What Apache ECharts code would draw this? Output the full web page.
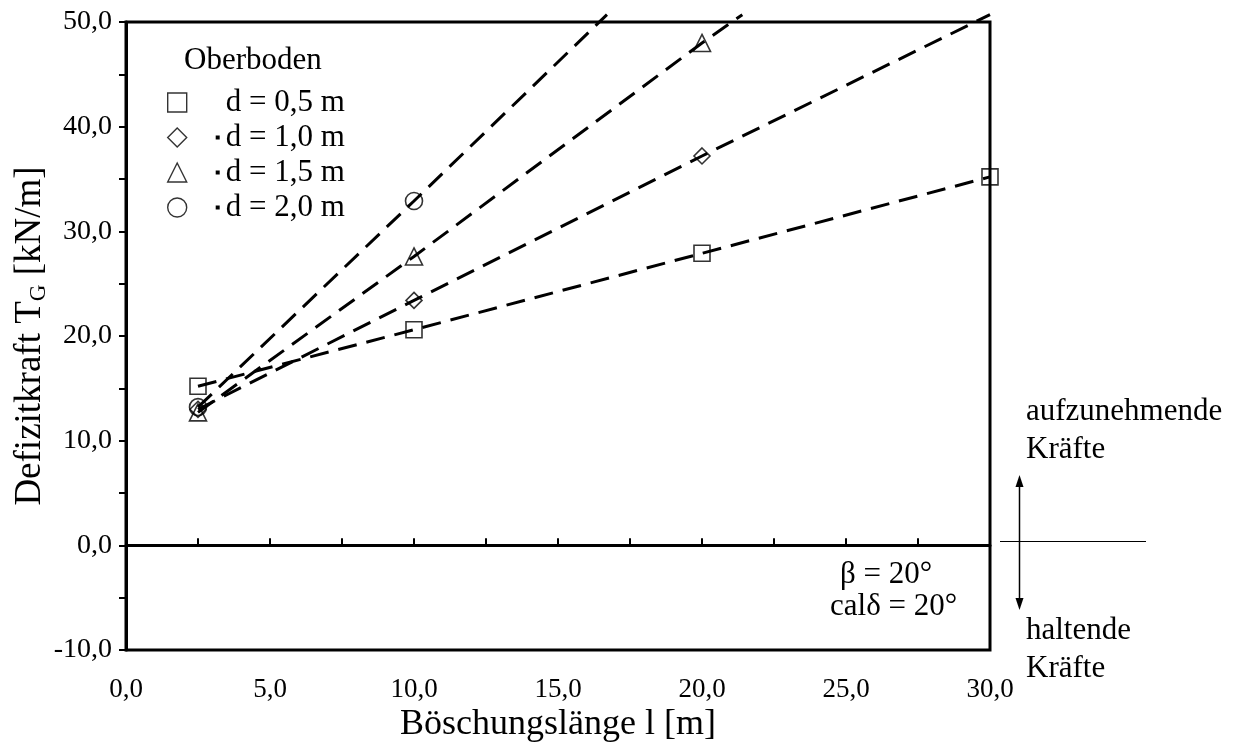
<!DOCTYPE html>
<html>
<head>
<meta charset="utf-8">
<script src="https://cdn.jsdelivr.net/npm/echarts@6/dist/echarts.min.js"></script>
<style>
  html, body { margin: 0; padding: 0; background: #fff; }
  #chart { width: 1233px; height: 747px; }
</style>
</head>
<body>
<div id="chart"></div>
<script>
// Böschungslänge l [m]
var lengths = [2.5, 10, 20, 30];
// Defizitkraft T_G [kN/m] je Oberbodendicke
var d05 = [15.2, 20.6, 27.9, 35.2];
var d10 = [13.0, 23.4, 37.2];
var d15 = [12.7, 27.6, 48.0];
var d20 = [13.2, 32.9];
// Verlängerung der Geraden bis über den oberen Rand (x, y)
var end10 = [30.0, 50.7];
var end15 = [21.4, 50.7];
var end20 = [16.7, 50.7];

var names = ['d = 0,5 m', 'd = 1,0 m', 'd = 1,5 m', 'd = 2,0 m'];
var symbols = ['rect', 'diamond', 'triangle', 'circle'];
var FONT = 'Liberation Serif';
var TXT = '31px "Liberation Serif"';

function pairs(ys, end) {
  var out = ys.map(function (v, i) { return [lengths[i], v]; });
  if (end) out.push(end);
  return out;
}

var chart = echarts.init(document.getElementById('chart'));

var lineSets = [pairs(d05), pairs(d10, end10), pairs(d15, end15), pairs(d20, end20)];
var pointSets = [pairs(d05), pairs(d10), pairs(d15), pairs(d20)];
var sizes = [16, 16, 17, 17];

var series = [];
lineSets.forEach(function (dat, i) {
  series.push({
    name: 'linie' + i,
    type: 'line',
    data: dat,
    showSymbol: false,
    clip: false,
    silent: true,
    z: 2,
    lineStyle: { color: '#000', width: 3, type: [19, 10] },
    markLine: i === 0 ? {
      silent: true,
      symbol: 'none',
      label: { show: false },
      lineStyle: { color: '#000', width: 2, type: 'solid' },
      data: [{ yAxis: 0 }]
    } : undefined
  });
});
pointSets.forEach(function (dat, i) {
  series.push({
    name: names[i],
    type: 'scatter',
    data: dat,
    symbol: symbols[i],
    symbolSize: sizes[i],
    z: 3,
    itemStyle: { color: 'rgba(0,0,0,0)', borderColor: '#000', borderWidth: 1.6 }
  });
});

var option = {
  animation: false,
  backgroundColor: '#fff',
  title: {
    text: 'Oberboden',
    left: 179,
    top: 40,
    textStyle: { fontFamily: FONT, fontWeight: 'normal', fontSize: 31, color: '#000' }
  },
  legend: {
    orient: 'vertical',
    left: 162,
    top: 82,
    itemWidth: 19,
    itemHeight: 19,
    itemGap: 4,
    selectedMode: false,
    data: names.map(function (n, i) { return { name: n, icon: symbols[i] }; }),
    itemStyle: { color: 'rgba(0,0,0,0)', borderColor: '#000', borderWidth: 1.4 },
    formatter: function (n) {
      if (n === names[0]) return '{g| }{t|' + n + '}';
      return '{g2| }{dot| }{g3| }{t|' + n + '}';
    },
    textStyle: {
      fontFamily: FONT,
      fontSize: 31,
      color: '#000',
      rich: {
        g: { width: 34 },
        g2: { width: 24 },
        dot: { width: 4, height: 4, backgroundColor: '#000' },
        g3: { width: 6 },
        t: { fontFamily: FONT, fontSize: 31, color: '#000' }
      }
    }
  },
  grid: {
    left: 126,
    right: 243,
    top: 22,
    bottom: 97,
    outerBoundsMode: 'none',
    containLabel: false,
    show: true,
    borderColor: '#000',
    borderWidth: 3
  },
  xAxis: {
    type: 'value',
    min: 0,
    max: 30,
    interval: 5,
    name: 'Böschungslänge l [m]',
    nameLocation: 'middle',
    nameGap: 57,
    nameMoveOverlap: false,
    nameTextStyle: { fontFamily: FONT, fontSize: 36, color: '#000', verticalAlign: 'top' },
    axisLine: { lineStyle: { color: '#000', width: 3 } },
    axisTick: { inside: true, length: 7, lineStyle: { color: '#000', width: 2 } },
    minorTick: { show: true, splitNumber: 2, length: 7, lineStyle: { color: '#000', width: 2 } },
    splitLine: { show: false },
    axisLabel: {
      fontFamily: FONT,
      fontSize: 27,
      color: '#000',
      margin: 26,
      formatter: function (v) { return v.toFixed(1).replace('.', ','); }
    }
  },
  yAxis: {
    type: 'value',
    min: -10,
    max: 50,
    interval: 10,
    name: '{n|Defizitkraft T}{s|G}{n| [kN/m]}',
    nameLocation: 'middle',
    nameGap: 76,
    nameMoveOverlap: false,
    nameTextStyle: {
      rich: {
        n: { fontFamily: FONT, fontSize: 37, color: '#000' },
        s: { fontFamily: FONT, fontSize: 23, color: '#000', padding: [16, 0, 0, 0] }
      }
    },
    axisLine: { lineStyle: { color: '#000', width: 3 } },
    axisTick: { inside: false, length: 7, lineStyle: { color: '#000', width: 2 } },
    minorTick: { show: true, splitNumber: 2, length: 7, lineStyle: { color: '#000', width: 2 } },
    splitLine: { show: false },
    axisLabel: {
      fontFamily: FONT,
      fontSize: 28,
      color: '#000',
      margin: 14,
      formatter: function (v) { return v.toFixed(1).replace('.', ','); }
    }
  },
  graphic: [
    { type: 'text', left: 840, top: 559, style: { text: 'β = 20°', font: TXT, fill: '#000' } },
    { type: 'text', left: 830, top: 591, style: { text: 'calδ = 20°', font: TXT, fill: '#000' } },
    { type: 'text', left: 1026, top: 396, style: { text: 'aufzunehmende', font: TXT, fill: '#000' } },
    { type: 'text', left: 1026, top: 434, style: { text: 'Kräfte', font: TXT, fill: '#000' } },
    { type: 'text', left: 1026, top: 615, style: { text: 'haltende', font: TXT, fill: '#000' } },
    { type: 'text', left: 1026, top: 653, style: { text: 'Kräfte', font: TXT, fill: '#000' } },
    { type: 'line', shape: { x1: 1000, y1: 541.5, x2: 1146, y2: 541.5 }, style: { stroke: '#000', lineWidth: 1 } },
    { type: 'line', shape: { x1: 1019.5, y1: 484, x2: 1019.5, y2: 601 }, style: { stroke: '#000', lineWidth: 1.5 } },
    { type: 'polygon', shape: { points: [[1019.5, 475], [1015.5, 487], [1023.5, 487]] }, style: { fill: '#000' } },
    { type: 'polygon', shape: { points: [[1019.5, 610], [1015.5, 598], [1023.5, 598]] }, style: { fill: '#000' } }
  ],
  series: series
};

chart.setOption(option);
</script>
</body>
</html>
